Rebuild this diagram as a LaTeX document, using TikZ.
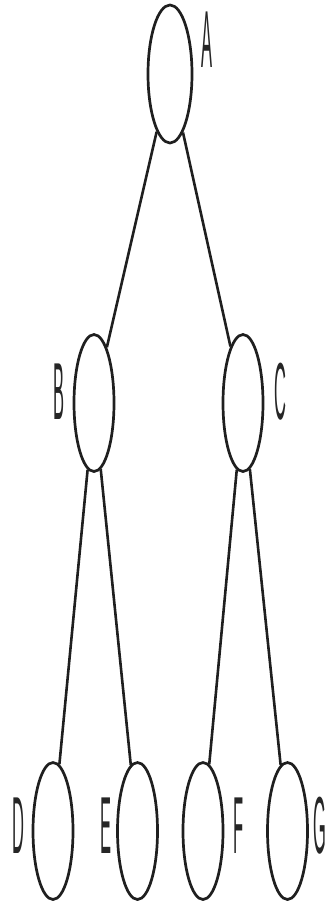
\documentclass[tikz,border=0pt]{standalone}
\usepackage{fontspec}
\setmainfont{Liberation Sans}
\usetikzlibrary{shapes.geometric}
\tikzset{
  treenode/.style={draw=black!88, line width=2.7pt, ellipse, inner sep=0pt, minimum width=40pt, minimum height=137pt},
  lab/.style={inner sep=0pt, font=\fontsize{16.5}{20}\selectfont, text=black!85},
  edge/.style={draw=black!88, line width=2.6pt}
}
\newcommand{\tl}[1]{\scalebox{1}[4.9]{#1}}
\begin{document}
\begin{tikzpicture}[x=1pt,y=-1pt]
\useasboundingbox (0,0) rectangle (334,902);
\node[treenode, minimum width=44pt, minimum height=138pt] (A) at (170,74) {};
\node[treenode] (B) at (94,403) {};
\node[treenode] (C) at (243,403) {};
\node[treenode] (D) at (53,831) {};
\node[treenode] (E) at (137.5,831) {};
\node[treenode] (F) at (203,831) {};
\node[treenode] (G) at (287.5,831) {};
\node[lab] (lA) at (207,40) {\tl{A}};
\node[lab] (lB) at (59,392) {\tl{B}};
\node[lab] (lC) at (280,392) {\tl{C}};
\node[lab] (lD) at (18,826) {\tl{D}};
\node[lab] (lE) at (106,826) {\tl{E}};
\node[lab] (lF) at (239,826) {\tl{F}};
\node[lab] (lG) at (320,826) {\tl{G}};
\draw[edge] (A) -- (B);
\draw[edge] (A) -- (C);
\draw[edge] (B) -- (D);
\draw[edge] (B) -- (E);
\draw[edge] (C) -- (F);
\draw[edge] (C) -- (G);
\end{tikzpicture}
\end{document}
